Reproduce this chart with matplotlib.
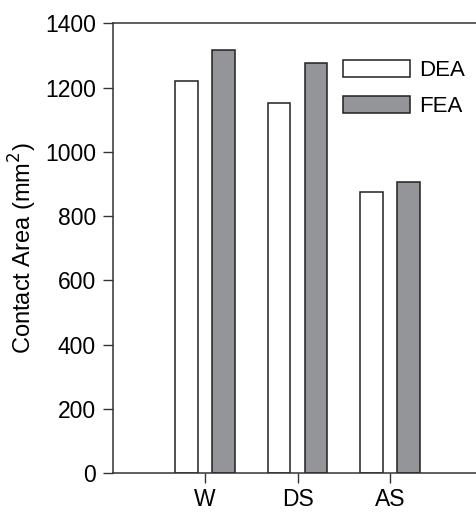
import numpy as np
import matplotlib
matplotlib.use("Agg")
from matplotlib import pyplot as plt

# values
categories = ["W", "DS", "AS"]
dea = [1220, 1151, 874]
fea = [1318, 1277, 907]
yticks = [0, 200, 400, 600, 800, 1000, 1200, 1400]

plt.rcParams['font.family'] = ['Liberation Sans', 'DejaVu Sans']

fig = plt.figure(figsize=(4.77, 5.13), dpi=100)
ax = fig.add_axes([0.236, 0.078, 0.764, 0.8766])

x = np.arange(len(categories))
w = 0.245
edge = '#231f20'
ax.bar(x - 0.2, dea, w, color='white', edgecolor=edge, linewidth=1.1, label='DEA')
ax.bar(x + 0.2, fea, w, color='#939598', edgecolor=edge, linewidth=1.1, label='FEA')

ax.set_xlim(-1.0, 2.94)
ax.set_ylim(0, 1400)
ax.set_xticks(x)
ax.set_xticklabels(categories)
ax.set_yticks(yticks)
ax.tick_params(direction='out', length=7, width=1, labelsize=16.5, color='#333333')
ax.tick_params(axis='y', pad=5)
ax.set_ylabel('Contact Area (mm$^2$)', fontsize=17, labelpad=4)

ax.spines['right'].set_visible(False)
for s in ['left', 'top', 'bottom']:
    ax.spines[s].set_linewidth(1.1)
    ax.spines[s].set_color('#333333')

ax.legend(loc='upper left', bbox_to_anchor=(0.633, 0.918), frameon=False, fontsize=16,
          handlelength=3.0, handleheight=0.8, handletextpad=0.4, labelspacing=0.65,
          borderaxespad=0, borderpad=0)

fig.savefig("out.png", dpi=100)
